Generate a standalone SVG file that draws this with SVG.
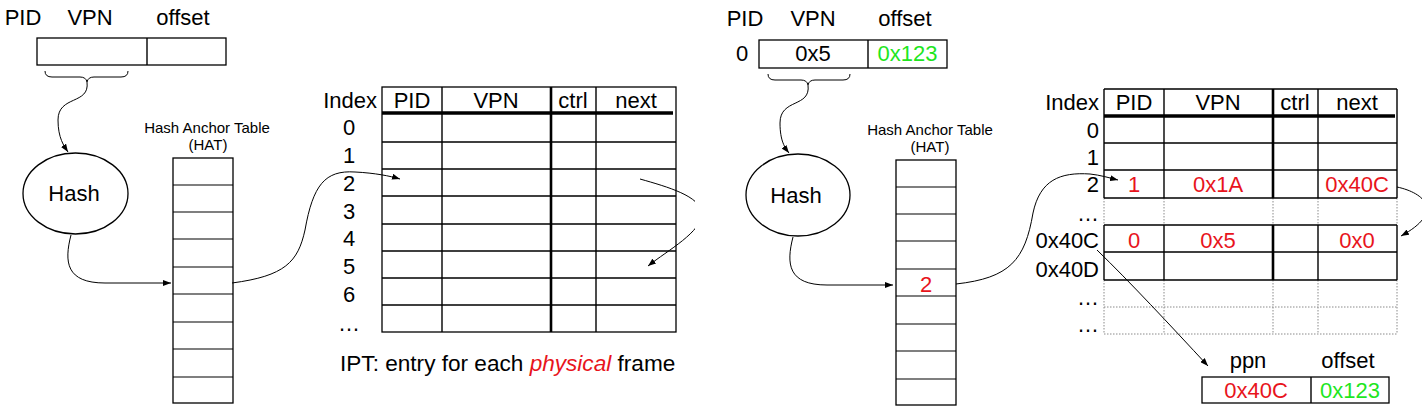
<svg xmlns="http://www.w3.org/2000/svg" width="1422" height="420" viewBox="0 0 1422 420">
<style>
text{font-family:"Liberation Sans",Arial,sans-serif;font-size:22px;fill:#000}
.c{text-anchor:middle}
.e{text-anchor:end}
.sm{font-size:15px}
.cap{font-size:22.6px}
.red{fill:#e8141c}
.grn{fill:#1ee61e}
.box{fill:#fff;stroke:#000;stroke-width:1.3}
.ln{stroke:#000;stroke-width:1.4;fill:none}
.thk{stroke:#000;stroke-width:3.5}
.col{stroke:#000;stroke-width:2.6}
.dot{stroke:#8a8a8a;stroke-width:1;stroke-dasharray:1.5 1.5;fill:none}
.con{stroke:#000;stroke-width:1;fill:none}
.ar{marker-end:url(#ah)}
</style>
<defs>
<marker id="ah" markerUnits="userSpaceOnUse" markerWidth="8" markerHeight="6" refX="8" refY="3" orient="auto"><path d="M0,0 L8,3 L0,6 z" fill="#000"/></marker>
<clipPath id="leftclip"><rect x="0" y="0" width="695" height="420"/></clipPath>
</defs>

<!-- LEFT SLIDE -->
<g id="addr-left">
<text class="c" x="23" y="25">PID</text>
<text class="c" x="90" y="25">VPN</text>
<text class="c" x="183" y="25">offset</text>
<rect class="box" x="37" y="38" width="189" height="27"/>
<line class="ln" x1="147" y1="38" x2="147" y2="65"/>
<path class="con" d="M45,71 Q45,77 52,77 L80,77 Q86,77 87,82 Q88,77 94,77 L121,77 Q128,77 128,71"/>
</g>
<g id="hash-left">
<ellipse class="box" cx="75.5" cy="193.5" rx="52.5" ry="40.5"/>
<text class="c" x="74" y="201">Hash</text>
</g>
<g id="hat-left">
<text class="c sm" x="207" y="133">Hash Anchor Table</text>
<text class="c sm" x="208" y="150">(HAT)</text>
<rect class="box" x="173" y="158" width="60" height="245"/>
<path class="ln" d="M173,185H233M173,212H233M173,239H233M173,267H233M173,294H233M173,322H233M173,349H233M173,377H233" style="stroke-width:1.2"/>
</g>
<g id="ipt-left">
<rect class="box" x="382" y="87" width="294" height="245"/>
<line class="thk" x1="382" y1="113" x2="673" y2="113"/>
<path class="ln" d="M382,142H676M382,169H676M382,196H676M382,224H676M382,251H676M382,278H676M382,305H676M442,87V332M596,87V332"/>
<line class="col" x1="551" y1="87" x2="551" y2="332"/>
<text class="e" x="377" y="108">Index</text>
<text class="c" x="412" y="108">PID</text>
<text class="c" x="496" y="108">VPN</text>
<text class="c" x="573" y="108">ctrl</text>
<text class="c" x="636" y="108">next</text>
<text class="c" x="349" y="135">0</text>
<text class="c" x="349" y="163">1</text>
<text class="c" x="349" y="191">2</text>
<text class="c" x="349" y="219">3</text>
<text class="c" x="349" y="246">4</text>
<text class="c" x="349" y="274">5</text>
<text class="c" x="349" y="302">6</text>
<text class="c" x="349" y="331">…</text>
</g>
<g id="caption-left">
<text class="cap" x="340" y="371">IPT: entry for each <tspan class="red" font-style="italic">physical</tspan> frame</text>
</g>

<!-- RIGHT SLIDE -->
<g id="addr-right">
<text class="c" x="745" y="26">PID</text>
<text class="c" x="813" y="26">VPN</text>
<text class="c" x="905" y="26">offset</text>
<text class="c" x="742" y="61">0</text>
<rect class="box" x="759" y="40" width="188" height="28"/>
<line class="ln" x1="868" y1="40" x2="868" y2="68"/>
<text class="c" x="813" y="61">0x5</text>
<text class="c grn" x="907.5" y="61">0x123</text>
<path class="con" d="M768,74 Q768,80 775,80 L801,80 Q807,80 808,85 Q809,80 815,80 L843,80 Q850,80 850,74"/>
</g>
<g id="hash-right">
<ellipse class="box" cx="798" cy="195" rx="52" ry="41"/>
<text class="c" x="796" y="203">Hash</text>
</g>
<g id="hat-right">
<text class="c sm" x="930" y="135">Hash Anchor Table</text>
<text class="c sm" x="930" y="152">(HAT)</text>
<rect class="box" x="896" y="160" width="60" height="245"/>
<path class="ln" d="M896,187H956M896,214H956M896,241H956M896,269H956M896,296H956M896,324H956M896,351H956M896,379H956" style="stroke-width:1.2"/>
<text class="c red" x="926" y="292">2</text>
</g>
<g id="ipt-right">
<rect x="1104" y="89" width="293" height="245" fill="#fff"/>
<path class="dot" d="M1104,198V225M1164,198V225M1273,198V225M1318,198V225M1397,198V225M1104,280V334M1164,280V334M1273,280V334M1318,280V334M1397,280V334M1104,307H1397M1104,334H1397"/>
<path class="ln" d="M1104,89H1397M1104,89V198M1397,89V198M1164,89V198M1318,89V198M1104,225V280M1397,225V280M1164,225V280M1318,225V280M1104,143H1397M1104,170H1397M1104,198H1397M1104,225H1397M1104,252H1397M1104,280H1397"/>
<path class="col" d="M1273,89V198M1273,225V280"/>
<line class="thk" x1="1104" y1="116" x2="1395" y2="116"/>
<text class="e" x="1099" y="110">Index</text>
<text class="c" x="1134" y="110">PID</text>
<text class="c" x="1218" y="110">VPN</text>
<text class="c" x="1295" y="110">ctrl</text>
<text class="c" x="1357" y="110">next</text>
<text class="e" x="1099" y="138">0</text>
<text class="e" x="1099" y="165">1</text>
<text class="e" x="1099" y="192">2</text>
<text class="e" x="1099" y="221">…</text>
<text class="e" x="1099" y="248">0x40C</text>
<text class="e" x="1099" y="277">0x40D</text>
<text class="e" x="1099" y="305">…</text>
<text class="e" x="1099" y="332">…</text>
<text class="c red" x="1134" y="192">1</text>
<text class="c red" x="1218" y="192">0x1A</text>
<text class="c red" x="1357" y="192">0x40C</text>
<text class="c red" x="1134" y="248">0</text>
<text class="c red" x="1218" y="248">0x5</text>
<text class="c red" x="1357" y="248">0x0</text>
</g>
<g id="out-right">
<text class="c" x="1248" y="368">ppn</text>
<text class="c" x="1348" y="368">offset</text>
<rect class="box" x="1202" y="377" width="187" height="26"/>
<line class="ln" x1="1311" y1="377" x2="1311" y2="403"/>
<text class="c red" x="1256" y="398">0x40C</text>
<text class="c grn" x="1350" y="398">0x123</text>
</g>

<g id="connectors">
<path class="con ar" d="M87,82 C90,105 58,95 58,120 C58,138 64,146 68,152"/>
<path class="con ar" d="M71,235 C64,262 66,283 105,283 L171,283"/>
<path class="con ar" d="M232,283 C285,276 298,262 305,230 C313,185 325,170 355,172 C375,173 390,176 400,179"/>
<path class="con ar" clip-path="url(#leftclip)" d="M640,179 C668,187 700,196 702,213 C702,232 668,250 648,266"/>
<path class="con ar" d="M808,85 C811,108 780,98 780,123 C780,141 785,148 789,153"/>
<path class="con ar" d="M793,237 C786,264 788,285 827,285 L893,285"/>
<path class="con ar" d="M956,284 C1010,278 1025,260 1033,213 C1040,180 1060,172 1090,174 C1100,175 1110,178 1118,180"/>
<path class="con ar" d="M1397,187 C1425,193 1445,212 1401,236"/>
<path class="con ar" d="M1097,250 C1130,282 1170,325 1208,366"/>
</g>
</svg>
